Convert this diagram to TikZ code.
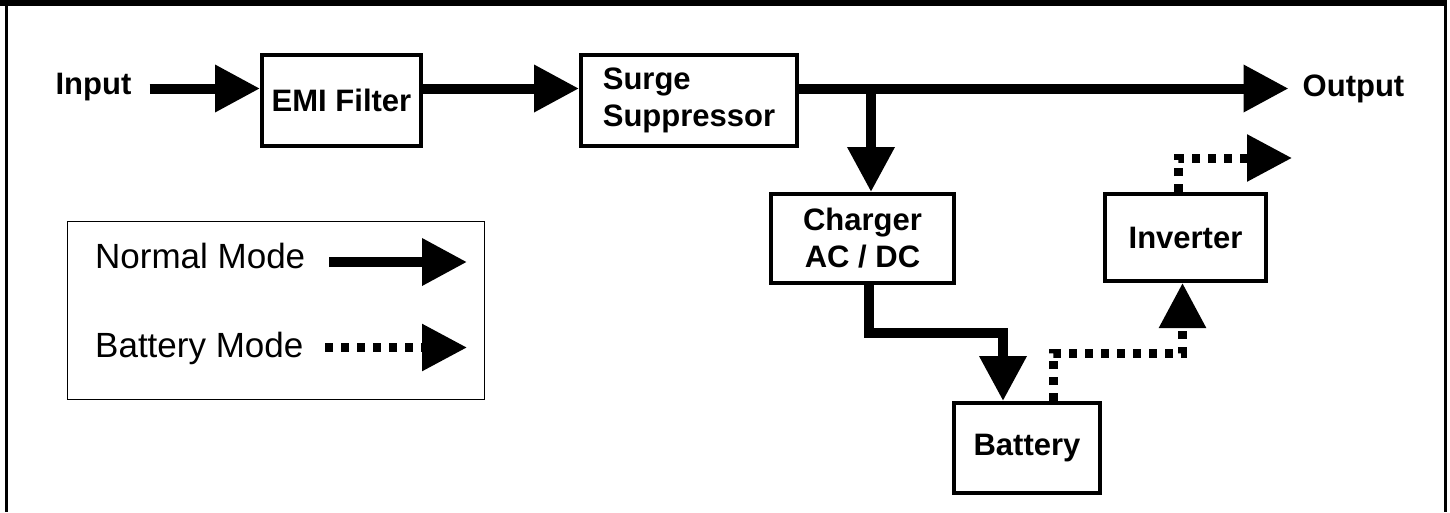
\documentclass[tikz,border=0pt]{standalone}
\usepackage{fontspec}
\setmainfont{Liberation Sans}
\usetikzlibrary{arrows.meta,calc}
\newcommand{\blockfont}{\fontsize{31}{37}\selectfont\bfseries}
\newcommand{\legendfont}{\fontsize{35}{42}\selectfont}
\tikzset{
  block/.style={draw,line width=4pt,inner sep=0pt,align=center,font=\blockfont},
  tag/.style={inner ysep=0pt,font=\blockfont},
  normal/.style={line width=10pt,-{Triangle[length=45pt,width=45pt]}},
  battmode/.style={line width=9pt,dash pattern=on 8pt off 8pt,-{Triangle[length=45pt,width=45pt]}},
}

\begin{document}
\begin{tikzpicture}[x=1pt,y=-1pt]
  \useasboundingbox (0,0) rectangle (1450,512);
  % frame
  \fill (0,0) rectangle (1447,6);
  \draw[line width=3pt] (6.5,0) -- (6.5,512) (1445.5,0) -- (1445.5,512);

  % blocks
  \node[block,minimum width=159pt,minimum height=91pt] (emi) at (341.5,100.5) {EMI Filter};
  \node[block,minimum width=216pt,minimum height=91pt,align=left] (surge) at (689,100.5) {Surge\\Suppressor};
  \node[block,minimum width=183pt,minimum height=89pt] (charger) at (862.5,238.5) {Charger\\AC / DC};
  \node[block,minimum width=146pt,minimum height=90pt] (battery) at (1027,448) {Battery};
  \node[block,minimum width=161pt,minimum height=87pt] (inverter) at (1185.5,237.5) {Inverter};
  \node[tag,anchor=base,inner xsep=18pt] (input) at (93.5,94) {Input};
  \node[tag,anchor=base,inner xsep=14pt] (output) at (1353.5,96) {Output};

  % normal mode
  \coordinate (bus) at (0,88.5);
  \coordinate (tap) at (871,88.5);
  \coordinate (chg) at (869,333);
  \draw[normal] (input.east |- bus) -- (emi.west |- bus);
  \draw[normal] (emi.east |- bus) -- (surge.west |- bus);
  \draw[normal] (surge.east |- bus) -- (output.west |- bus);
  \draw[normal] (tap) -- (tap |- charger.north);
  \draw[normal] (chg |- charger.south) -- (chg) -| ([xshift=-24pt]battery.north);

  % battery mode
  \coordinate (bat) at (1053,353);
  \coordinate (inv) at (1178,158);
  \coordinate (invout) at (1292,158);
  \draw[battmode] (bat |- battery.north) -- (bat) -| ([xshift=-3pt]inverter.south);
  \draw[battmode] (inv |- inverter.north) -- (inv) -- (invout);

  % legend
  \node[draw,line width=1pt,minimum width=417pt,minimum height=178pt,inner sep=0pt] (legend) at (276,310.5) {};
  \node[anchor=base west,inner sep=0pt,font=\legendfont] (normaltxt) at (95,268) {Normal Mode};
  \node[anchor=base west,inner sep=0pt,font=\legendfont] (batttxt) at (95,357) {Battery Mode};
  \coordinate (normalfrom) at (329,262);
  \coordinate (normalto) at (467,262);
  \coordinate (battfrom) at (325,347.5);
  \coordinate (battto) at (467,347.5);
  \draw[normal] (normalfrom) -- (normalto);
  \draw[battmode] (battfrom) -- (battto);
\end{tikzpicture}
\end{document}
